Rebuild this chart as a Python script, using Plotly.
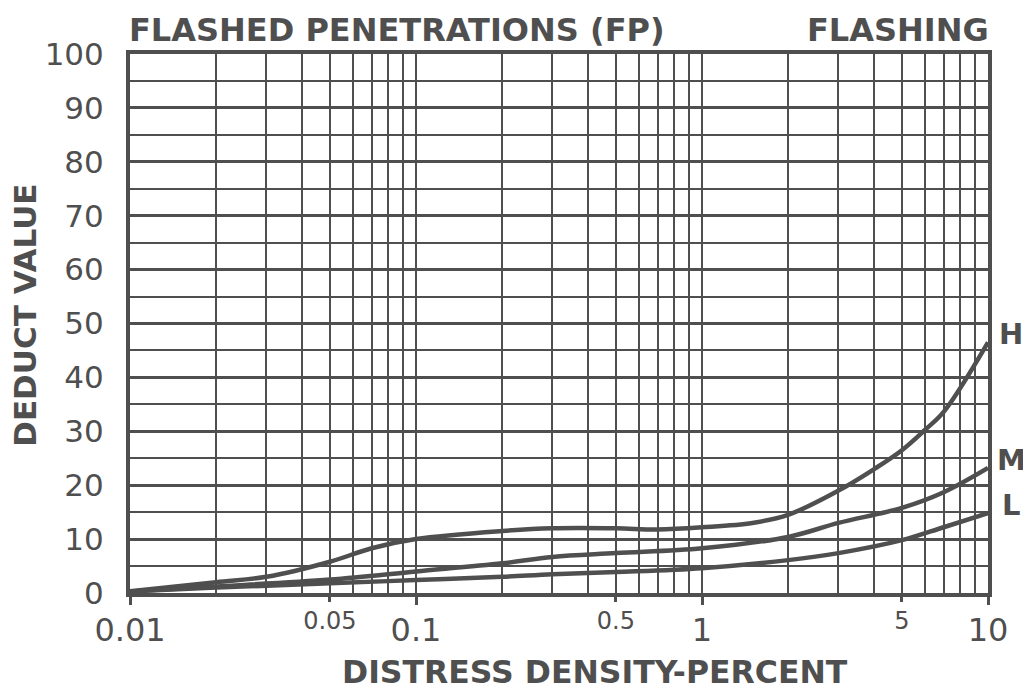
import plotly.graph_objects as go

# ---- data ----
h_x = [0.01, 0.02, 0.03, 0.05, 0.07, 0.1, 0.2, 0.3, 0.5, 0.7, 1, 1.5, 2, 3, 4, 5, 6, 7, 10]
h_y = [0.3, 2.0, 3.0, 5.8, 8.3, 10.0, 11.5, 12.0, 12.0, 11.8, 12.2, 13.0, 14.5, 19.0, 23.0, 26.5, 30.2, 33.6, 46.5]

m_x = [0.01, 0.02, 0.05, 0.1, 0.2, 0.3, 0.5, 1, 2, 3, 5, 7, 10]
m_y = [0.3, 1.2, 2.5, 4.0, 5.5, 6.7, 7.4, 8.3, 10.4, 13.0, 15.8, 18.7, 23.2]

l_x = [0.01, 0.02, 0.05, 0.1, 0.2, 0.3, 0.5, 1, 2, 3, 5, 7, 10]
l_y = [0.3, 1.0, 1.8, 2.4, 3.0, 3.5, 3.9, 4.6, 6.1, 7.4, 9.8, 12.2, 14.8]

series_names = ["H", "M", "L"]

major_x_ticks = [0.01, 0.1, 1, 10]
major_x_text = ["0.01", "0.1", "1", "10"]
small_x_ticks = [0.05, 0.5, 5]
small_x_text = ["0.05", "0.5", "5"]
minor_x_grid = [k * 10 ** d for d in (-2, -1, 0) for k in range(2, 10)]

y_ticks = list(range(0, 101, 10))
y_minor = list(range(5, 100, 10))

INK = "#4f4f4f"
FONT = "DejaVu Sans"

fig = go.Figure()
for name, xs, ys in zip(series_names, [h_x, m_x, l_x], [h_y, m_y, l_y]):
    fig.add_trace(go.Scatter(x=xs, y=ys, mode="lines", name=name,
                             line=dict(color=INK, width=4.5, shape="spline", smoothing=1.0),
                             showlegend=False, hoverinfo="skip"))
# invisible trace for second x axis (small tick labels)
fig.add_trace(go.Scatter(x=[0.01, 10], y=[0, 0], xaxis="x2", mode="lines",
                         line=dict(width=0), showlegend=False, hoverinfo="skip"))

# page body has an 8px margin: figure is sized/offset to compensate
fig.update_layout(
    width=1023, height=682,
    margin=dict(l=122, r=43, t=46, b=97),
    paper_bgcolor="white", plot_bgcolor="white",
    font=dict(family=FONT, color=INK),
    xaxis=dict(type="log", range=[-2, 1], tickvals=major_x_ticks, ticktext=major_x_text,
               tickfont=dict(size=32, color=INK), ticks="outside", ticklen=8, tickwidth=3,
               tickcolor=INK, showgrid=True, gridcolor=INK, gridwidth=2,
               showline=True, linecolor=INK, linewidth=4, mirror=True, zeroline=False,
               ticklabelstandoff=-2,
               minor=dict(tickvals=minor_x_grid, showgrid=True, gridcolor=INK, gridwidth=2, ticks="")),
    xaxis2=dict(type="log", range=[-2, 1], overlaying="x", anchor="y", side="bottom", matches="x",
                tickvals=small_x_ticks, ticktext=small_x_text,
                tickfont=dict(size=24, color=INK), ticks="outside", ticklen=8, tickwidth=3,
                tickcolor=INK, showgrid=False, showline=False, zeroline=False,
                ticklabelstandoff=-2),
    yaxis=dict(range=[0, 100], tickvals=y_ticks, ticktext=[str(v) for v in y_ticks],
               tickfont=dict(size=31, color=INK), ticks="", showgrid=True, gridcolor=INK,
               gridwidth=3, showline=True, linecolor=INK, linewidth=4, mirror=True,
               zeroline=False, ticklabelstandoff=16,
               minor=dict(tickvals=y_minor, showgrid=True, gridcolor=INK, gridwidth=1.6, ticks="")),
)

# paper coords: plot area is 858 x 539 px
ann = [
    dict(text="<b>FLASHED PENETRATIONS (FP)</b>", x=-0.003, y=1.045, xanchor="left", yanchor="middle",
         font=dict(size=32)),
    dict(text="<b>FLASHING</b>", x=1.003, y=1.045, xanchor="right", yanchor="middle", font=dict(size=32)),
    dict(text="<b>DEDUCT VALUE</b>", x=-0.1224, y=0.516, textangle=-90, xanchor="center",
         yanchor="middle", font=dict(size=31)),
    dict(text="<b>DISTRESS DENSITY-PERCENT</b>", x=0.542, y=-0.1466, xanchor="center",
         yanchor="middle", font=dict(size=31.5)),
]
for a in ann:
    a.update(xref="paper", yref="paper", showarrow=False)
    a["font"].update(family=FONT, color=INK)
fig.update_layout(annotations=ann)

for name, ys in zip(series_names, [h_y, m_y, l_y]):
    fig.add_annotation(text="<b>%s</b>" % name, xref="paper", yref="y", x=1.027, y=ys[-1] + 1.5,
                       xanchor="center", yanchor="middle", showarrow=False,
                       font=dict(family=FONT, size=29, color=INK))

fig.write_html("out.html")
